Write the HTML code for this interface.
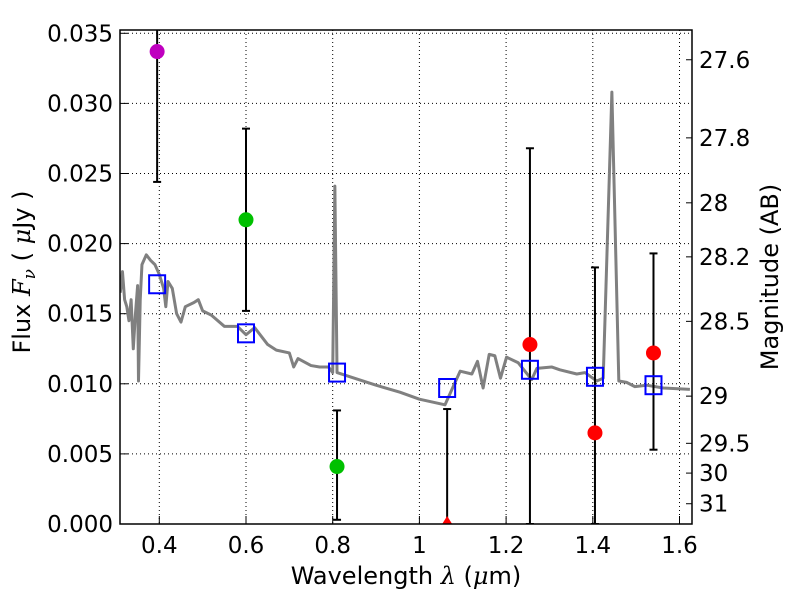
<!DOCTYPE html>
<html><head><meta charset="utf-8"><style>
body{margin:0;background:#fff;}
svg{display:block;font-family:"DejaVu Sans","Liberation Sans",sans-serif;}
</style></head><body>
<svg id="chart" width="800" height="600" viewBox="0 0 800 600" xmlns="http://www.w3.org/2000/svg"></svg>
<script>
const xTicks=[0.4,0.6,0.8,1.0,1.2,1.4,1.6];
const xTickLabels=["0.4","0.6","0.8","1","1.2","1.4","1.6"];
const yTicks=[0,0.005,0.010,0.015,0.020,0.025,0.030,0.035];
const yTickLabels=["0.000","0.005","0.010","0.015","0.020","0.025","0.030","0.035"];
const magTicks=[27.6,27.8,28,28.2,28.5,29,29.5,30,31];
const magTickLabels=["27.6","27.8","28","28.2","28.5","29","29.5","30","31"];
const specWave=[0.31,0.315,0.32,0.325,0.33,0.335,0.34,0.345,0.35,0.352,0.356,0.36,0.37,0.38,0.39,0.40,0.41,0.415,0.42,0.43,0.44,0.45,0.46,0.48,0.49,0.5,0.52,0.55,0.58,0.6,0.62,0.65,0.67,0.70,0.71,0.72,0.75,0.77,0.79,0.80,0.805,0.81,0.85,0.9,0.955,1.0,1.059,1.094,1.121,1.134,1.147,1.161,1.174,1.187,1.201,1.228,1.259,1.271,1.305,1.324,1.363,1.382,1.409,1.424,1.444,1.46,1.478,1.497,1.524,1.563,1.624];
const specFlux=[0.0165,0.018,0.016,0.0155,0.0145,0.016,0.0125,0.015,0.017,0.0102,0.016,0.0185,0.0192,0.0188,0.0185,0.0178,0.0168,0.0155,0.0173,0.0168,0.015,0.0144,0.0155,0.0158,0.016,0.0152,0.0149,0.0141,0.0141,0.0135,0.014,0.0128,0.0124,0.0122,0.0112,0.0118,0.0113,0.0112,0.0112,0.0108,0.0241,0.0108,0.0104,0.0099,0.0094,0.0089,0.0085,0.0109,0.0107,0.0116,0.0097,0.0121,0.012,0.0104,0.0119,0.0115,0.0103,0.0111,0.0112,0.011,0.0107,0.0108,0.0102,0.0104,0.0308,0.0102,0.0101,0.0098,0.0099,0.0097,0.0096];
const obsWave=[0.395,0.6,0.81,1.064,1.255,1.405,1.54];
const obsFlux=[0.0337,0.0217,0.0041,0.0,0.0128,0.0065,0.0122];
const obsLow=[0.0244,0.0152,0.0003,0.0,0.0,0.0,0.0053];
const obsHigh=[0.036,0.0282,0.0081,0.0082,0.0268,0.0183,0.0193];
const obsColor=["#bf00bf","#00c000","#00c000","#ff0000","#ff0000","#ff0000","#ff0000"];
const modelFlux=[0.0171,0.0136,0.0108,0.0097,0.0110,0.0105,0.0099];

const L=120,R=692,T=30,B=524;
const X=v=>159.3+(v-0.4)*433.5;
const Y=f=>B-f*14020;
const NS="http://www.w3.org/2000/svg";
const svg=document.getElementById('chart');
function mk(tag,attrs,parent){const e=document.createElementNS(NS,tag);for(const k in attrs)e.setAttribute(k,attrs[k]);(parent||svg).appendChild(e);return e;}
const clip=mk('clipPath',{id:'pc'});mk('rect',{x:L,y:T,width:R-L,height:B-T},clip);
xTicks.forEach((v,i)=>{
 const g=mk('line',{x1:X(v),x2:X(v),y1:T,y2:B,stroke:'#000','stroke-width':1,'stroke-dasharray':'1,3'});
 
 
 const t=mk('line',{x1:X(v),x2:X(v),y1:B,y2:B-8,stroke:'#000'});
 
 
 const tx=mk('text',{x:X(v),y:B+29,'font-size':23,'text-anchor':'middle'});tx.textContent=xTickLabels[i];
 
 
});
yTicks.forEach((v,i)=>{
 const g=mk('line',{x1:L,x2:R,y1:Y(v),y2:Y(v),stroke:'#000','stroke-width':1,'stroke-dasharray':'1,3'});
 
 
 const t=mk('line',{x1:L,x2:L+8,y1:Y(v),y2:Y(v),stroke:'#000'});
 
 
 const tx=mk('text',{x:L-7,y:Y(v)+8,'font-size':23,'text-anchor':'end'});tx.textContent=yTickLabels[i];
 
 
});
magTicks.forEach((m,i)=>{
 const f=Math.pow(10,(23.9-m)/2.5);const y=Y(f);
 const t=mk('line',{x1:R,x2:R-6,y1:y,y2:y,stroke:'#000'});
 
 
 const tx=mk('text',{x:R+7,y:y+8,'font-size':23});tx.textContent=magTickLabels[i];
 
 
});
const plot=mk('g',{'clip-path':'url(#pc)'});


const sp=mk('polyline',{points:specWave.map((w,i)=>X(w)+','+Y(specFlux[i])).join(' '),fill:'none',stroke:'#808080','stroke-width':3,'stroke-linejoin':'round'},plot);


obsWave.forEach((w,i)=>{
 const x=X(w);
 const e=mk('line',{x1:x,x2:x,y1:Y(obsLow[i]),y2:Y(obsHigh[i]),stroke:'#000','stroke-width':2},plot);
 
 
 [obsLow[i],obsHigh[i]].forEach(v=>{const c=mk('line',{x1:x-4,x2:x+4,y1:Y(v),y2:Y(v),stroke:'#000','stroke-width':2},plot);
  
  });
});
obsWave.forEach((w,i)=>{
 let m;
 if(obsFlux[i]<=0){m=mk('polygon',{points:`${X(w)-5},${Y(0)} ${X(w)+5},${Y(0)} ${X(w)},${Y(0)-8}`,fill:obsColor[i]},plot);}
 else m=mk('circle',{cx:X(w),cy:Y(obsFlux[i]),r:7.5,fill:obsColor[i]},plot);
 
 
 const s=mk('rect',{x:X(w)-8,y:Y(modelFlux[i])-9,width:16,height:18,fill:'none',stroke:'#0000ff','stroke-width':2},plot);
 
 
});
const fr=mk('rect',{x:L,y:T,width:R-L,height:B-T,fill:'none',stroke:'#000','stroke-width':1.5});


const xl=mk('text',{x:406,y:584,'font-size':24,'text-anchor':'middle'});
xl.innerHTML='Wavelength  <tspan font-style="italic" font-family="DejaVu Serif">λ</tspan> (<tspan font-style="italic" font-family="DejaVu Serif">μ</tspan>m)';


const yl=mk('text',{x:0,y:0,'font-size':24,'text-anchor':'middle',transform:'translate(30,272) rotate(-90)'});
yl.innerHTML='Flux  <tspan font-style="italic" font-family="DejaVu Serif">F</tspan><tspan font-style="italic" font-family="DejaVu Serif" font-size="17" dy="5">ν</tspan><tspan dy="-5">   ( </tspan><tspan font-style="italic" font-family="DejaVu Serif">μ</tspan>Jy )';


const ml=mk('text',{x:0,y:0,'font-size':24,'text-anchor':'middle',transform:'translate(778,277) rotate(-90)'});
ml.textContent='Magnitude (AB)';


</script>
</body></html>
